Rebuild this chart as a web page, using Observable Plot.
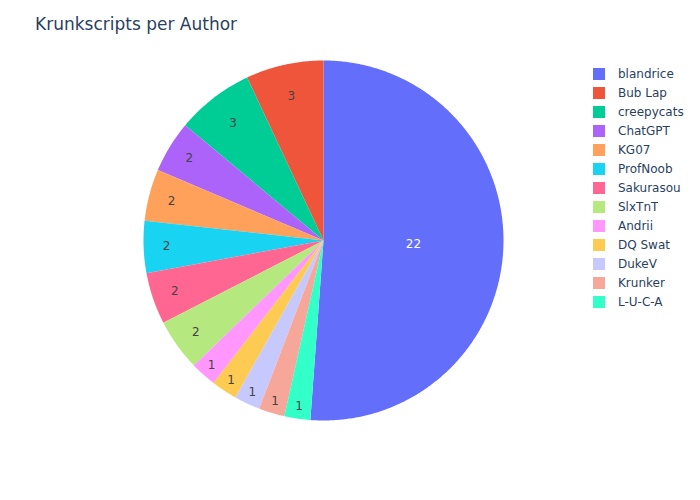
<!DOCTYPE html>
<html><head><meta charset="utf-8">
<script src="https://cdn.jsdelivr.net/npm/d3@7"></script>
<script src="https://cdn.jsdelivr.net/npm/@observablehq/plot@0.6"></script>
<style>
body{margin:0;background:#fff;}
#wrap{position:relative;width:700px;height:500px;font-family:"DejaVu Sans",verdana,arial,sans-serif;}
#chart{position:absolute;left:0;top:0;}
#title{position:absolute;left:35px;top:13px;font-size:17px;line-height:23px;color:#2a3f5f;white-space:nowrap;}
#legend{position:absolute;left:593px;top:64px;}
#legend div{font-family:"DejaVu Sans",verdana,arial,sans-serif !important;font-size:12px !important;color:#2a3f5f !important;}
#legend .lg-swatch{height:19px !important;padding:0 !important;margin:0 !important;display:flex !important;align-items:center !important;}
#legend .lg-swatch svg{margin-right:13px !important;}
#legend .lg-swatches{margin:0 !important;min-height:0 !important;columns:auto !important;}
</style></head>
<body>
<div id="wrap">
  <div id="chart"></div>
  <div id="title">Krunkscripts per Author</div>
  <div id="legend"></div>
</div>
<script>
const authors = ["blandrice","Bub Lap","creepycats","ChatGPT","KG07","ProfNoob","Sakurasou","SlxTnT","Andrii","DQ Swat","DukeV","Krunker","L-U-C-A"];
const counts = [22,3,3,2,2,2,2,2,1,1,1,1,1];
const colors = ["#636efa","#EF553B","#00cc96","#ab63fa","#FFA15A","#19d3f3","#FF6692","#B6E880","#FF97FF","#FECB52","#c6c9fd","#f7a799","#33ffc9"];
const textColors = ["#ffffff","#444","#444","#444","#444","#444","#444","#444","#444","#444","#444","#444","#444"];

const W = 700, H = 500, CX = 323, CY = 240, R = 180;
const arcs = d3.pie().sort(null).value(d => d)(counts);
// slices run counterclockwise; the first one ends at 12 o'clock
const A1 = arcs[0].endAngle;
const ang = t => A1 - t;

const polyRows = [];
const labelRows = [];
arcs.forEach((a, i) => {
  const name = authors[i];
  polyRows.push({author: name, x: 0, y: 0});
  const n = Math.max(2, Math.ceil((a.endAngle - a.startAngle) / (Math.PI / 360)));
  for (let k = 0; k <= n; k++) {
    const t = ang(a.startAngle + (a.endAngle - a.startAngle) * k / n);
    polyRows.push({author: name, x: R * Math.sin(t), y: R * Math.cos(t)});
  }
  const half = (a.endAngle - a.startAngle) / 2;
  const mid = ang(a.startAngle + half);
  const rIns = Math.min(1 / (1 + 1 / Math.sin(half)), 0.5);
  const rc = R * (1 - rIns);
  labelRows.push({author: name, value: counts[i], x: rc * Math.sin(mid), y: rc * Math.cos(mid), tc: textColors[i]});
});

const chart = Plot.plot({
  width: W, height: H,
  margin: 0,
  x: {domain: [-CX, W - CX], axis: null},
  y: {domain: [-(H - CY), CY], axis: null},
  color: {domain: authors, range: colors},
  style: {fontFamily: '"DejaVu Sans", verdana, arial, sans-serif', background: "white"},
  marks: [
    Plot.line(polyRows, {x: "x", y: "y", z: "author", fill: "author", stroke: null, curve: "linear-closed"}),
    Plot.text(labelRows, {x: "x", y: "y", text: d => String(d.value), fill: d => d.tc, fontSize: 12, textAnchor: "middle", lineAnchor: "middle"})
  ]
});
document.getElementById("chart").appendChild(chart);

const leg = Plot.legend({
  color: {type: "ordinal", domain: authors, range: colors},
  columns: 1,
  swatchSize: 12,
  className: "lg",
  style: {fontFamily: '"DejaVu Sans", verdana, arial, sans-serif', fontSize: "12px", color: "#2a3f5f"}
});
document.getElementById("legend").appendChild(leg);
</script>
</body></html>
